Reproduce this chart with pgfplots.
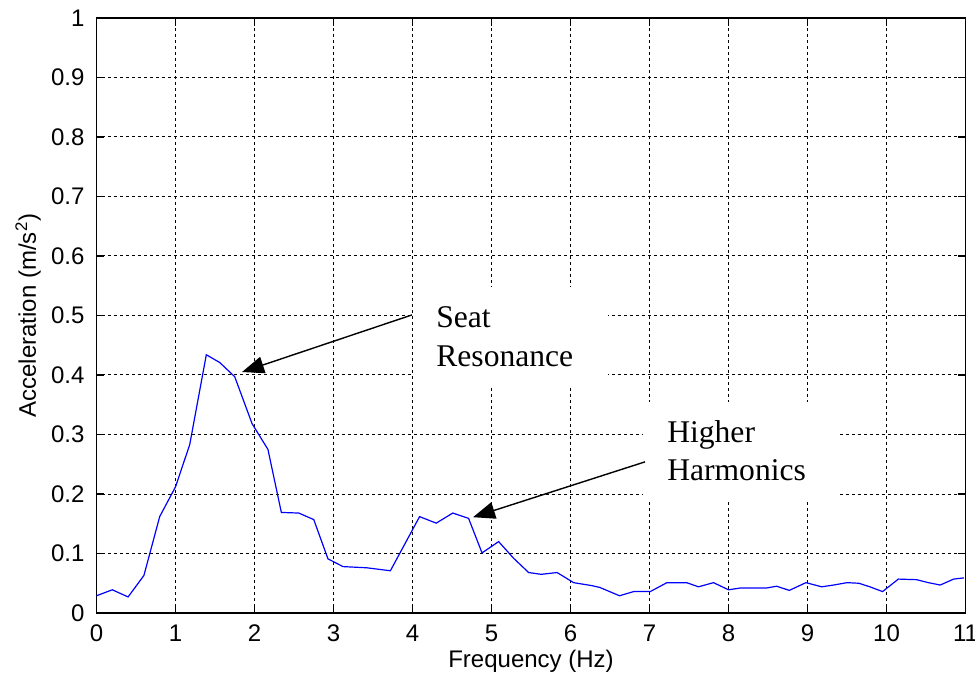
\documentclass[border=0pt]{standalone}
\usepackage{pgfplots}
\pgfplotsset{compat=1.18}
\usepackage{fontspec}
\setmainfont{Liberation Sans}
\newfontfamily\annfont{Liberation Serif}
\usetikzlibrary{arrows.meta}
\pgfplotstableread{
f v
0.00 0.029
0.20 0.039
0.40 0.027
0.60 0.063
0.80 0.162
1.00 0.212
1.18 0.283
1.39 0.434
1.56 0.421
1.75 0.397
1.97 0.318
2.17 0.275
2.34 0.169
2.56 0.168
2.75 0.157
2.93 0.091
3.12 0.078
3.42 0.076
3.72 0.071
4.09 0.162
4.30 0.151
4.51 0.168
4.71 0.159
4.88 0.101
5.09 0.120
5.28 0.092
5.47 0.068
5.63 0.065
5.83 0.068
6.04 0.051
6.27 0.046
6.37 0.043
6.62 0.029
6.80 0.036
7.01 0.036
7.22 0.051
7.47 0.051
7.62 0.044
7.81 0.051
8.00 0.039
8.15 0.042
8.48 0.042
8.61 0.045
8.77 0.038
8.98 0.051
9.18 0.044
9.33 0.047
9.50 0.051
9.65 0.050
9.79 0.044
9.95 0.036
10.15 0.057
10.38 0.056
10.53 0.051
10.68 0.047
10.85 0.057
10.98 0.059
}\datatable
\begin{document}
\begin{tikzpicture}
\begin{axis}[
  name=ax, at={(0,0)}, anchor=south west,
  scale only axis, width=434.5bp, height=297.5bp,
  xmin=0, xmax=11, ymin=0, ymax=1,
  xtick={0,1,...,11},
  ytick={0,0.1,...,1},
  yticklabels={0,0.1,0.2,0.3,0.4,0.5,0.6,0.7,0.8,0.9,1},
  tick align=inside,
  major tick length=4bp,
  axis line style={line width=0.6bp},
  every tick/.style={black, line width=0.6bp},
  grid=major,
  major grid style={black, line width=0.5bp, dash pattern=on 1.5bp off 1.5bp},
  /pgf/number format/assume math mode=true,
  tick label style={font=\fontsize{12bp}{14bp}\selectfont},
  xticklabel style={yshift=-2.5bp},
  yticklabel style={xshift=-2.5bp},
  xlabel={Frequency (Hz)},
  ylabel={Acceleration (m/s\textsuperscript{2})},
  label style={font=\fontsize{12bp}{14bp}\selectfont},
  xlabel style={at={(axis description cs:0.5,-0.0908)}, anchor=base},
  ylabel style={at={(axis description cs:-0.056,0.5)}, anchor=south},
  clip=false,
]
\addplot[color={rgb,255:red,0;green,0;blue,255}, line width=0.6bp] table[x=f,y=v] {\datatable};
\fill[white] (axis cs:4.019,0.383) rectangle (axis cs:6.475,0.548);
\fill[white] (axis cs:6.918,0.187) rectangle (axis cs:9.41,0.355);
\node[anchor=base west, inner sep=0pt, font=\annfont\fontsize{15.8bp}{19bp}\selectfont] at (axis cs:4.297,0.479) {Seat};
\node[anchor=base west, inner sep=0pt, font=\annfont\fontsize{15.8bp}{19bp}\selectfont] at (axis cs:4.297,0.415) {Resonance};
\node[anchor=base west, inner sep=0pt, font=\annfont\fontsize{15.8bp}{19bp}\selectfont] at (axis cs:7.22,0.286) {Higher};
\node[anchor=base west, inner sep=0pt, font=\annfont\fontsize{15.8bp}{19bp}\selectfont] at (axis cs:7.22,0.2235) {Harmonics};
\draw[line width=0.7bp, -{Triangle[length=11bp,width=8.5bp]}] (axis cs:3.994,0.501) -- (axis cs:1.842,0.405);
\draw[line width=0.7bp, -{Triangle[length=11bp,width=8.5bp]}] (axis cs:6.943,0.254) -- (axis cs:4.766,0.161);
\end{axis}
\pgfresetboundingbox
\path[use as bounding box] (-48.25bp,-32bp) rectangle (439.25bp,306.5bp);
\end{tikzpicture}
\end{document}
